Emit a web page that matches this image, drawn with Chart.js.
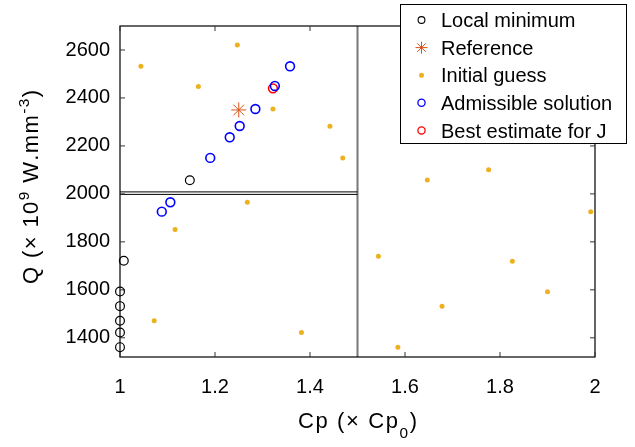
<!DOCTYPE html>
<html>
<head>
<meta charset="utf-8">
<script src="https://cdn.jsdelivr.net/npm/chart.js@4/dist/chart.umd.min.js"></script>
<style>
  html, body { margin: 0; padding: 0; background: #fff; }
  #wrap { width: 635px; height: 447px; }
</style>
</head>
<body>
<div id="wrap"><canvas id="myChart" width="635" height="447"></canvas></div>
<script>
// axis ticks
const xTicks = [1, 1.2, 1.4, 1.6, 1.8, 2];
const yTicks = [1400, 1600, 1800, 2000, 2200, 2400, 2600];

// Initial guess (orange dots)
const guessCp = [1.044, 1.247, 1.165, 1.322, 1.442, 1.469, 1.268, 1.116, 1.072, 1.382, 1.544, 1.585, 1.647, 1.776, 1.991, 1.826, 1.900, 1.678];
const guessQ  = [2532, 2621, 2448, 2354, 2282, 2150, 1965, 1852, 1471, 1422, 1740, 1361, 2058, 2101, 1926, 1719, 1592, 1532];

// Local minimum (black circles)
const localCp = [1.147, 1.008, 1.0, 1.0, 1.0, 1.0, 1.0];
const localQ  = [2057, 1721, 1593, 1532, 1471, 1422, 1361];

// Admissible solution (blue circles)
const admCp = [1.358, 1.326, 1.285, 1.252, 1.231, 1.190, 1.106, 1.088];
const admQ  = [2532, 2450, 2354, 2283, 2236, 2150, 1965, 1926];

// Reference and best estimate
const refCp = [1.25];
const refQ  = [2350];
const bestCp = [1.322];
const bestQ  = [2440];

// inset frame drawn on the figure
const insetCp = 1.5;
const insetQ = 2000;

const FONT = '"Liberation Sans", Arial, sans-serif';
const toPts = (xs, ys) => xs.map((x, i) => ({ x: x, y: ys[i] }));

const legendItems = [
    { label: "Local minimum", style: "circle", color: "#000000", r: 3.4, lw: 1.1 },
    { label: "Reference", style: "star", color: "#D95319", r: 6, lw: 1 },
    { label: "Initial guess", style: "dot", color: "#EDB120", r: 2.5 },
    { label: "Admissible solution", style: "circle", color: "#0000FF", r: 3.6, lw: 1.3 },
    { label: "Best estimate for J", style: "circle", color: "#FF0000", r: 3.6, lw: 1.3 }
];

function drawMarker(ctx, m, x, y) {
    ctx.save();
    if (m.style === "dot") {
        ctx.fillStyle = m.color;
        ctx.beginPath();
        ctx.arc(x, y, m.r, 0, Math.PI * 2);
        ctx.fill();
    } else if (m.style === "circle") {
        ctx.strokeStyle = m.color;
        ctx.lineWidth = m.lw;
        ctx.beginPath();
        ctx.arc(x, y, m.r, 0, Math.PI * 2);
        ctx.stroke();
    } else {
        ctx.strokeStyle = m.color;
        ctx.lineWidth = m.lw;
        ctx.beginPath();
        for (let k = 0; k < 4; k++) {
            const a = k * Math.PI / 4;
            ctx.moveTo(x - m.r * Math.cos(a), y - m.r * Math.sin(a));
            ctx.lineTo(x + m.r * Math.cos(a), y + m.r * Math.sin(a));
        }
        ctx.stroke();
    }
    ctx.restore();
}

// text with super/subscripts, centred on x, with a little extra tracking
function drawRich(ctx, parts, x, y, size, gap) {
    const chars = [];
    parts.forEach(p => {
        const fs = p.off ? size * 0.7 : size;
        ctx.font = fs + "px " + FONT;
        for (const c of p.t) {
            chars.push({ c: c, fs: fs, off: p.off || 0, w: ctx.measureText(c).width + gap });
        }
    });
    const total = chars.reduce((s, c) => s + c.w, 0) - gap;
    let cx = x - total / 2;
    chars.forEach(c => {
        ctx.font = c.fs + "px " + FONT;
        ctx.fillText(c.c, cx, y + c.off);
        cx += c.w;
    });
}

const framePlugin = {
    id: "frame",
    beforeDatasetsDraw(chart) {
        const { ctx, chartArea: a, scales: { x, y } } = chart;
        ctx.save();
        // inset boundary
        const xi = x.getPixelForValue(insetCp);
        const yi = y.getPixelForValue(insetQ);
        ctx.strokeStyle = "#777";
        ctx.lineWidth = 2;
        ctx.beginPath();
        ctx.moveTo(xi, a.top);
        ctx.lineTo(xi, a.bottom);
        ctx.stroke();
        ctx.strokeStyle = "#000";
        ctx.lineWidth = 1;
        ctx.beginPath();
        ctx.moveTo(a.left, yi - 2);
        ctx.lineTo(xi, yi - 2);
        ctx.moveTo(a.left, yi + 0.5);
        ctx.lineTo(xi, yi + 0.5);
        ctx.stroke();

        // frame
        ctx.strokeStyle = "#000";
        ctx.lineWidth = 1.2;
        ctx.strokeRect(a.left, a.top, a.right - a.left, a.bottom - a.top);

        // inward tick marks
        ctx.strokeStyle = "#333";
        ctx.lineWidth = 1;
        ctx.beginPath();
        xTicks.forEach(v => {
            const px = x.getPixelForValue(v);
            ctx.moveTo(px, a.bottom);
            ctx.lineTo(px, a.bottom - 5);
            ctx.moveTo(px, a.top);
            ctx.lineTo(px, a.top + 5);
        });
        yTicks.forEach(v => {
            const py = y.getPixelForValue(v);
            ctx.moveTo(a.left, py);
            ctx.lineTo(a.left + 5, py);
            ctx.moveTo(a.right, py);
            ctx.lineTo(a.right - 5, py);
        });
        ctx.stroke();
        ctx.restore();
    },
    afterDraw(chart) {
        const { ctx, chartArea: a } = chart;
        ctx.save();
        ctx.fillStyle = "#000";
        ctx.textAlign = "left";
        ctx.textBaseline = "alphabetic";

        // axis titles
        drawRich(ctx, [{ t: "Cp (\u00d7 Cp" }, { t: "0", off: 10 }, { t: ")" }],
            (a.left + a.right) / 2, 427.5, 22, 1.6);
        ctx.save();
        ctx.translate(38, 187);
        ctx.rotate(-Math.PI / 2);
        drawRich(ctx, [{ t: "Q (\u00d7 10" }, { t: "9", off: -9 }, { t: " W.mm" }, { t: "-3", off: -9 }, { t: ")" }],
            0, 0, 22, 1.4);
        ctx.restore();

        // legend box
        ctx.fillStyle = "#fff";
        ctx.fillRect(400, 4, 227, 140);
        ctx.strokeStyle = "#000";
        ctx.lineWidth = 1;
        ctx.strokeRect(400.5, 4.5, 226, 139);
        ctx.font = "20px " + FONT;
        legendItems.forEach((m, i) => {
            const cy = 20 + i * 27.6;
            drawMarker(ctx, m, 421.5, cy);
            ctx.fillStyle = "#000";
            ctx.fillText(m.label, 441, cy + 7.2);
        });
        ctx.restore();
    }
};

new Chart(document.getElementById("myChart"), {
    type: "scatter",
    data: {
        datasets: [
            {
                label: "Initial guess",
                data: toPts(guessCp, guessQ),
                pointStyle: "circle",
                pointRadius: 2.5,
                pointBorderWidth: 0,
                pointBackgroundColor: "#EDB120",
                clip: false
            },
            {
                label: "Local minimum",
                data: toPts(localCp, localQ),
                pointStyle: "circle",
                pointRadius: 4.4,
                pointBorderWidth: 1.2,
                pointBorderColor: "#000000",
                pointBackgroundColor: "rgba(0,0,0,0)",
                clip: false
            },
            {
                label: "Reference",
                data: toPts(refCp, refQ),
                pointStyle: "star",
                pointRadius: 7.5,
                pointBorderWidth: 1,
                pointBorderColor: "#D95319",
                clip: false
            },
            {
                label: "Admissible solution",
                data: toPts(admCp, admQ),
                pointStyle: "circle",
                pointRadius: 4.4,
                pointBorderWidth: 1.6,
                pointBorderColor: "#0000FF",
                pointBackgroundColor: "rgba(0,0,0,0)",
                clip: false
            },
            {
                label: "Best estimate for J",
                data: toPts(bestCp, bestQ),
                pointStyle: "circle",
                pointRadius: 4.4,
                pointBorderWidth: 1.6,
                pointBorderColor: "#FF0000",
                pointBackgroundColor: "rgba(0,0,0,0)",
                clip: false
            }
        ]
    },
    options: {
        responsive: false,
        animation: false,
        events: [],
        layout: { padding: { top: 26, right: 40, bottom: 0, left: 0 } },
        plugins: {
            legend: { display: false },
            tooltip: { enabled: false }
        },
        scales: {
            x: {
                type: "linear",
                position: "bottom",
                min: 1,
                max: 2,
                afterFit: s => { s.height = 90; },
                afterBuildTicks: s => { s.ticks = xTicks.map(v => ({ value: v })); },
                grid: { display: false, drawTicks: false },
                border: { display: false },
                ticks: {
                    padding: 18,
                    color: "#000",
                    maxRotation: 0,
                    autoSkip: false,
                    font: { family: FONT, size: 20 },
                    callback: v => String(Math.round(v * 10) / 10)
                }
            },
            y: {
                type: "linear",
                min: 1320,
                max: 2700,
                afterFit: s => { s.width = 120; },
                afterBuildTicks: s => { s.ticks = yTicks.map(v => ({ value: v })); },
                grid: { display: false, drawTicks: false },
                border: { display: false },
                ticks: {
                    padding: 10,
                    color: "#000",
                    autoSkip: false,
                    font: { family: FONT, size: 20 },
                    callback: v => String(v)
                }
            }
        }
    },
    plugins: [framePlugin]
});
</script>
</body>
</html>
